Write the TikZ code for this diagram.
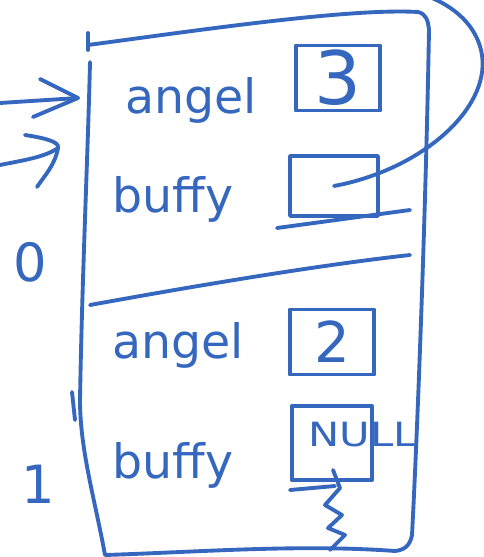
\documentclass[tikz,border=0pt]{standalone}
\usepackage{fontspec}
\setmainfont{DejaVu Sans}
\definecolor{ink}{RGB}{53,103,190}
\begin{document}
\begin{tikzpicture}[x=0.02cm,y=-0.02cm,
  pen/.style={draw=ink,line width=2.2pt,line cap=round,line join=round},
  lbl/.style={text=ink,font=\fontsize{27}{28}\selectfont,inner sep=0pt,anchor=base west},
  val/.style={text=ink,inner sep=0pt},
  cell/.style={pen,minimum width=48pt,minimum height=37pt}]
\useasboundingbox (0,0) rectangle (483,557);
% outer frame
\draw[pen] (88,33) -- (88,50);
\draw[pen] (88,45) .. controls (200,30) and (350,8) .. (418,12)
  .. controls (426,14) and (428,20) .. (429,30)
  .. controls (426,200) and (418,420) .. (412,535)
  .. controls (410,546) and (404,550) .. (395,551)
  .. controls (300,544) and (200,552) .. (105,555)
  .. controls (95,500) and (80,450) .. (80,400)
  .. controls (82,280) and (88,150) .. (90,62);
\draw[pen] (72,392) -- (75,420);
% divider
\draw[pen] (90,305) .. controls (200,285) and (320,265) .. (410,255);
% index labels
\node[val,font=\fontsize{30}{30}\selectfont] (i0) at (30,262) {0};
\node[val,font=\fontsize{30}{30}\selectfont] (i1) at (38,484) {1};
% arrows into bucket
\coordinate (a1s) at (0,103);
\coordinate (a1e) at (78,98);
\draw[pen] (a1s) -- (a1e);
\draw[pen] (40,79) -- (a1e) -- (33,117);
\coordinate (a2s) at (0,165);
\coordinate (a2e) at (58,148);
\draw[pen] (a2s) .. controls (25,160) and (45,157) .. (a2e);
\draw[pen] (25,135) .. controls (45,138) and (60,142) .. (a2e) .. controls (55,165) and (45,175) .. (37,187);
% labels
\node[lbl] (n1) at (125,114) {angel};
\node[lbl] (n2) at (112,212) {buffy};
\node[lbl] (n3) at (112,358) {angel};
\node[lbl] (n4) at (112,478) {buffy};
% value boxes
\node[cell] (b1) at (338,78) {};
\node[val,font=\fontsize{42}{42}\selectfont] (v1) at (b1) {3};
\node[cell,minimum width=50pt,minimum height=34pt] (b2) at (334,186) {};
\draw[pen] (277,228) -- (410,210);
\node[cell] (b3) at (332,342) {};
\node[val,font=\fontsize{32}{32}\selectfont] (v3) at (b3) {2};
\node[cell,minimum width=46pt,minimum height=42pt] (b4) at (332,443) {};
\node[val,font=\fontsize{19}{19}\selectfont,anchor=west,xscale=1.25] (v4) at (308,435) {NULL};
\draw[pen] (290,490) -- (335,486);
\draw[pen] (333,470) -- (340,488) -- (325,505) -- (342,515) -- (328,528) -- (345,535) -- (330,550);
% pointer loop
\draw[pen] (b2.center) .. controls (420,170) and (490,110) .. (482,55)
  .. controls (478,30) and (460,10) .. (432,-2);
\end{tikzpicture}
\end{document}
